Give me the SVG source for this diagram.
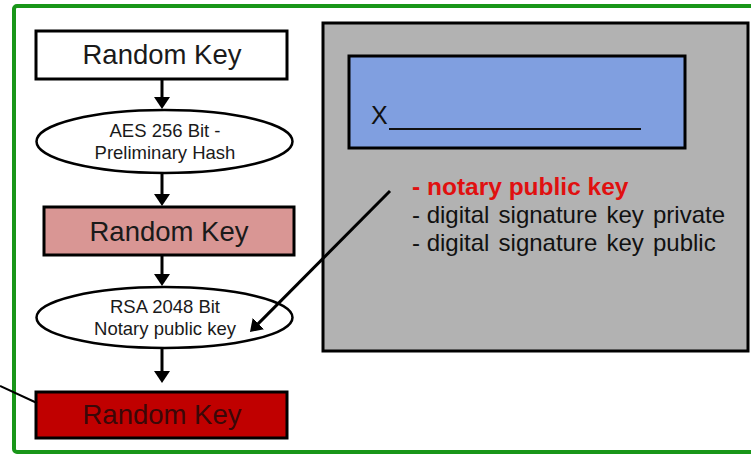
<svg xmlns="http://www.w3.org/2000/svg" width="751" height="454" viewBox="0 0 751 454">
  <defs>
    <marker id="ah" markerUnits="userSpaceOnUse" markerWidth="12" markerHeight="16" refX="3" refY="8" orient="auto">
      <path d="M0,0 L12,8 L0,16 z" fill="#000"/>
    </marker>
    <style>
      .box { stroke: #000; stroke-width: 3; }
      .ell { fill: #fff; stroke: #000; stroke-width: 2.5; }
      .big { font-family: "Liberation Sans", Arial, sans-serif; font-size: 27.5px; text-anchor: middle; fill: #1a1a1a; }
      .small { font-family: "Liberation Sans", Arial, sans-serif; font-size: 18.5px; text-anchor: middle; fill: #1a1a1a; }
      .list { font-family: "Liberation Sans", Arial, sans-serif; font-size: 24px; fill: #111; word-spacing: 2.5px; }
      .nows { word-spacing: 0px; }
      .conn { stroke: #000; stroke-width: 3; fill: none; }
    </style>
  </defs>
  <rect x="0" y="0" width="751" height="454" fill="#fff"/>
  <rect id="frame" x="14" y="6" width="745" height="446" rx="3" fill="none" stroke="#199619" stroke-width="4"/>

  <g id="panel">
    <rect x="323" y="23" width="425" height="328" fill="#b2b2b2" stroke="#000" stroke-width="3"/>
    <rect x="349" y="56" width="336" height="92" fill="#809fe0" stroke="#000" stroke-width="3"/>
    <text x="371" y="124" font-family="Liberation Sans, Arial, sans-serif" font-size="25" fill="#111">X</text>
    <line x1="389" y1="129" x2="641" y2="129" stroke="#111" stroke-width="2"/>
    <text x="412" y="195" font-family="Liberation Sans, Arial, sans-serif" font-size="24.5" font-weight="bold" fill="#e01010">- notary public key</text>
    <text class="list" x="412" y="223"><tspan class="nows">- </tspan>digital signature key private</text>
    <text class="list" x="412" y="251"><tspan class="nows">- </tspan>digital signature key public</text>
  </g>

  <g id="n1">
    <rect class="box" x="36" y="31" width="251" height="48" fill="#fff"/>
    <text class="big" x="162" y="64">Random Key</text>
  </g>
  <g id="n2">
    <ellipse class="ell" cx="164.5" cy="141.5" rx="128" ry="31.5"/>
    <text class="small" x="165" y="137">AES 256 Bit -</text>
    <text class="small" x="165" y="159">Preliminary Hash</text>
  </g>
  <g id="n3">
    <rect class="box" x="44" y="207" width="250" height="48" fill="#d99694"/>
    <text class="big" x="169" y="241">Random Key</text>
  </g>
  <g id="n4">
    <ellipse class="ell" cx="164.5" cy="317.5" rx="128" ry="30.5"/>
    <text class="small" x="165" y="313">RSA 2048 Bit</text>
    <text class="small" x="165" y="335">Notary public key</text>
  </g>
  <g id="n5">
    <rect class="box" x="36" y="392" width="251" height="46" fill="#c00000"/>
    <text class="big" x="162" y="424" style="fill:#3a0808">Random Key</text>
  </g>

  <g id="connectors">
    <line class="conn" x1="162" y1="79" x2="162" y2="100" marker-end="url(#ah)"/>
    <line class="conn" x1="162" y1="173" x2="162" y2="197" marker-end="url(#ah)"/>
    <line class="conn" x1="162" y1="255" x2="162" y2="277" marker-end="url(#ah)"/>
    <line class="conn" x1="162" y1="348" x2="162" y2="374" marker-end="url(#ah)"/>
    <line class="conn" x1="390" y1="191" x2="256.3" y2="325.6" marker-end="url(#ah)"/>
    <line x1="0" y1="386" x2="37" y2="403" stroke="#000" stroke-width="2"/>
  </g>
</svg>
